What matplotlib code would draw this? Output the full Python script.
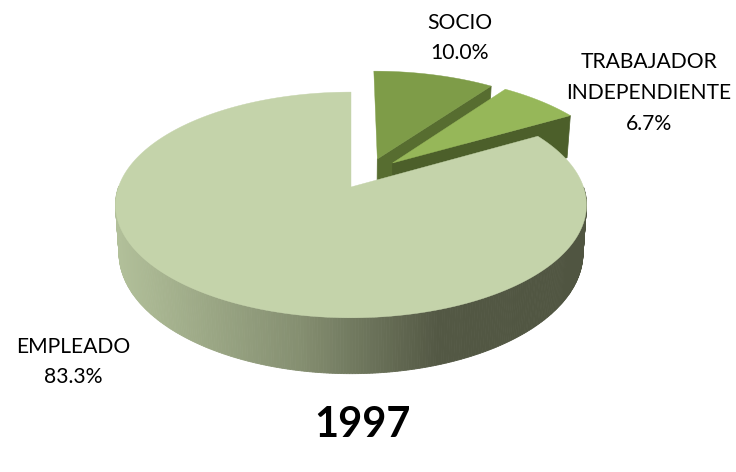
import numpy as np
import matplotlib
matplotlib.use("Agg")
import matplotlib.pyplot as plt

labels = ["SOCIO", "TRABAJADOR\nINDEPENDIENTE", "EMPLEADO"]
values = [10.0, 6.7, 83.3]
title = "1997"

top_colors = ["#7E9C48", "#96B759", "#C4D3AA"]
side_colors = ["#576D30", "#4C5F2A", "#535844"]
# slice offset in the plane of the pie
explode = [(0.118, 0.265), (0.185, 0.226), (0.0, 0.0)]
label_pos = [(460, 38), (649, 93), (73, 362)]

# projection of the tilted pie, in pixels
CX, CY = 351, 187
RX, RY = 232.5, 110
K = 0.159
DEPTH = 47


def project(u, v, low=False):
    w = 1 + K * v
    x = CX + RX * u / w
    y = CY - RY * v / w
    if low:
        x = CX + (x - CX) * 0.985
        y = y + DEPTH / w
    return x, y


def arc(a0, a1, off, low=False, n=200):
    t = np.radians(np.linspace(a0, a1, n))
    return project(off[0] + np.sin(t), off[1] + np.cos(t), low)


def side_color(x):
    stops = [115, 300, 440, 590]
    r = np.interp(x, stops, [178, 133, 83, 80])
    g = np.interp(x, stops, [192, 143, 88, 85])
    b = np.interp(x, stops, [154, 113, 68, 65])
    return (r / 255, g / 255, b / 255)


fig = plt.figure(figsize=(7.36, 4.72), dpi=100)
ax = fig.add_axes([0, 0, 1, 1])
ax.set_xlim(0, 736)
ax.set_ylim(472, 0)
ax.axis("off")

edges = np.concatenate([[0], np.cumsum(values)]) * 3.6 / sum(values) * 100

# back to front: the two small slices first, the big one on top
for i in range(3):
    a0, a1 = edges[i], edges[i + 1]
    off = explode[i]
    if i < 2:
        # cut face on the clockwise side
        ax0, ay0 = project(off[0], off[1])
        bx0, by0 = project(off[0], off[1], True)
        t = np.radians(a1)
        ax1, ay1 = project(off[0] + np.sin(t), off[1] + np.cos(t))
        bx1, by1 = project(off[0] + np.sin(t), off[1] + np.cos(t), True)
        ax.fill([ax0, ax1, bx1, bx0], [ay0, ay1, by1, by0],
                color=side_colors[i], lw=0.5, zorder=i * 2 + 1)
    else:
        # outer wall, split in strips for the shading
        tx, ty = arc(a0, a1, off, n=500)
        lx, ly = arc(a0, a1, off, True, n=500)
        for j in range(len(tx) - 1):
            if ty[j] < CY:
                continue
            ax.fill([tx[j], tx[j + 1], lx[j + 1], lx[j]],
                    [ty[j], ty[j + 1], ly[j + 1], ly[j]],
                    color=side_color(tx[j]), lw=0.6, zorder=i * 2 + 1)
    px, py = arc(a0, a1, off)
    ox, oy = project(off[0], off[1])
    ax.fill(np.r_[ox, px], np.r_[oy, py], color=top_colors[i], lw=0.3,
            zorder=i * 2 + 2)

for i in range(3):
    ax.text(label_pos[i][0], label_pos[i][1],
            "%s\n%.1f%%" % (labels[i], values[i]),
            ha="center", va="center", fontsize=15.2, family="Lato",
            linespacing=1.68, color="black")

ax.text(362, 425, title, ha="center", va="center", fontsize=30,
        fontweight="bold", family="Lato", color="black")

fig.savefig("out.png", dpi=100)
